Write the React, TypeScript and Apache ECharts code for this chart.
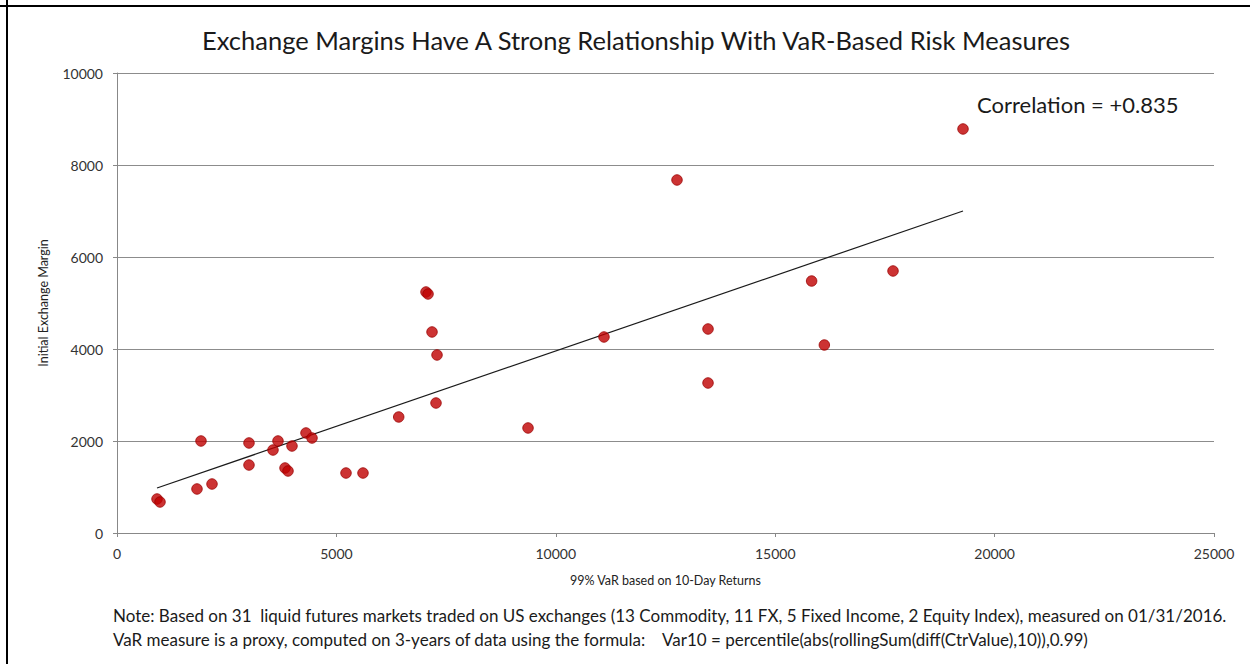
import React, { useEffect, useRef } from "react";
import * as echarts from "echarts";

const titleText = "Exchange Margins Have A Strong Relationship With VaR-Based Risk Measures";
const xAxisName = "99% VaR based on 10-Day Returns";
const yAxisName = "Initial Exchange Margin";
const correlationText = "Correlation = +0.835";
const noteLines = [
  "Note: Based on 31  liquid futures markets traded on US exchanges (13 Commodity, 11 FX, 5 Fixed Income, 2 Equity Index), measured on 01/31/2016.",
  "VaR measure is a proxy, computed on 3-years of data using the formula:    Var10 = percentile(abs(rollingSum(diff(CtrValue),10)),0.99)",
];

const varValues = [
  912, 980, 1823, 2165, 1914, 3008, 3008, 3669, 3555, 3988, 3829, 3897, 4307, 4444, 5219, 5606,
  6420, 7042, 7088, 7179, 7293, 7270, 9367, 11098, 12762, 13469, 13469,
  15830, 16120, 17685, 19280,
];
const marginValues = [
  739, 674, 957, 1065, 2000, 1957, 1478, 2000, 1804, 1891, 1413, 1348, 2174, 2065, 1304, 1304,
  2522, 5239, 5196, 4370, 3870, 2826, 2283, 4261, 7674, 4435, 3261,
  5478, 4087, 5696, 8783,
];
const trendX = [912, 19280];
const trendY = [978, 7000];

const xMin = 0, xMax = 25000, xStep = 5000;
const yMin = 0, yMax = 10000, yStep = 2000;

export default function App() {
  const ref = useRef<HTMLDivElement>(null);
  useEffect(() => {
    if (!ref.current) return;
    const chart = echarts.init(ref.current, null, { renderer: "svg" });
    const font = "Lato";
    const plain = (v: number) => String(v);
    chart.setOption({
      animation: false,
      backgroundColor: "#ffffff",
      title: {
        text: titleText,
        left: 631,
        top: 22,
        textAlign: "center",
        textStyle: { fontFamily: font, fontSize: 25.5, fontWeight: "normal", color: "#1a1a1a" },
      },
      grid: { left: 117, right: 36, top: 73, bottom: 131 },
      xAxis: {
        type: "value",
        min: xMin,
        max: xMax,
        interval: xStep,
        name: xAxisName,
        nameLocation: "middle",
        nameGap: 41,
        nameTextStyle: { fontFamily: font, fontSize: 12.5, color: "#222" },
        axisLine: { show: true, lineStyle: { color: "#888", width: 1 } },
        axisTick: { show: true, inside: false, length: 4, lineStyle: { color: "#888" } },
        axisLabel: { fontFamily: font, fontSize: 14, color: "#333", margin: 13, formatter: plain },
        splitLine: { show: false },
      },
      yAxis: {
        type: "value",
        min: yMin,
        max: yMax,
        interval: yStep,
        name: yAxisName,
        nameLocation: "middle",
        nameGap: 67,
        nameTextStyle: { fontFamily: font, fontSize: 12.5, color: "#222" },
        axisLine: { show: true, lineStyle: { color: "#888", width: 1 } },
        axisTick: { show: true, inside: false, length: 4, lineStyle: { color: "#888" } },
        axisLabel: { fontFamily: font, fontSize: 14, color: "#333", margin: 14, formatter: plain },
        splitLine: { show: true, lineStyle: { color: "#8c8c8c", width: 1 } },
      },
      series: [
        {
          type: "line",
          data: trendX.map((x, i) => [x, trendY[i]]),
          showSymbol: false,
          symbol: "none",
          lineStyle: { color: "#1a1a1a", width: 1.2 },
          z: 2,
        },
        {
          type: "scatter",
          data: varValues.map((x, i) => [x, marginValues[i]]),
          symbol: "circle",
          symbolSize: 10.5,
          itemStyle: { color: "#bf0000", borderColor: "#9a0000", borderWidth: 1 },
          z: 3,
        },
      ],
      graphic: [
        {
          type: "text",
          left: 977,
          top: 93,
          style: { text: correlationText, font: `22px ${font}`, fill: "#1a1a1a" },
        },
        {
          type: "text",
          left: 113,
          top: 607,
          style: { text: noteLines[0], font: `17px ${font}`, fill: "#1a1a1a" },
        },
        {
          type: "text",
          left: 113,
          top: 631,
          style: { text: noteLines[1], font: `17px ${font}`, fill: "#1a1a1a" },
        },
        { type: "line", shape: { x1: 7, y1: 0, x2: 7, y2: 664 }, style: { stroke: "#000", lineWidth: 2 } },
        { type: "line", shape: { x1: 0, y1: 6, x2: 1250, y2: 6 }, style: { stroke: "#000", lineWidth: 2 } },
      ],
    });
    return () => chart.dispose();
  }, []);
  return (
    <div
      ref={ref}
      style={{ position: "absolute", left: 0, top: 0, width: 1250, height: 664 }}
    />
  );
}
